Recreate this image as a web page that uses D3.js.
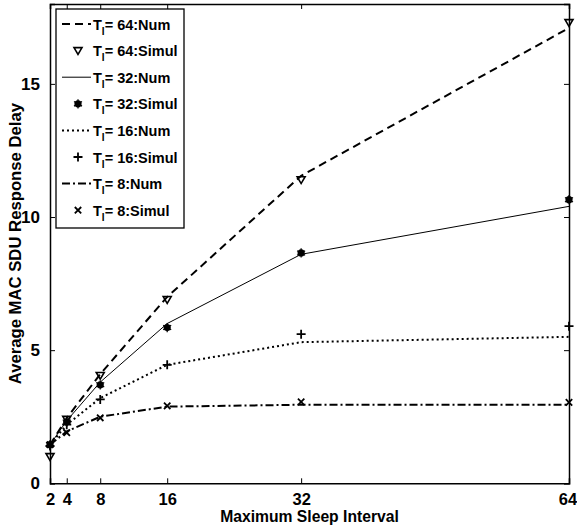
<!DOCTYPE html>
<html>
<head>
<meta charset="utf-8">
<script src="https://cdn.jsdelivr.net/npm/d3@7"></script>
<style>
  html, body { margin: 0; padding: 0; background: #fff; }
  svg { display: block; }
  text { font-family: "Liberation Sans", Arial, Helvetica, sans-serif; font-weight: bold; fill: #000; }
</style>
</head>
<body>
<script>
// Maximum sleep interval values on the x axis
const intervals = [2, 4, 8, 16, 32, 64];

// Average MAC SDU response delay: numerical model and simulation, per T_I
const num64 = [1.45, 2.45, 4.1, 7.0, 11.55, 17.1];
const sim64 = [1.0, 2.4, 4.05, 6.9, 11.4, 17.3];
const num32 = [1.45, 2.35, 3.8, 6.0, 8.6, 10.4];
const sim32 = [1.45, 2.3, 3.7, 5.85, 8.65, 10.65];
const num16 = [1.45, 2.2, 3.2, 4.45, 5.3, 5.5];
const sim16 = [1.4, 2.2, 3.15, 4.45, 5.6, 5.9];
const num8  = [1.45, 1.95, 2.5, 2.88, 2.95, 2.95];
const sim8  = [1.45, 1.9, 2.46, 2.91, 3.06, 3.04];

const xTicks = [2, 4, 8, 16, 32, 64];
const yTicks = [0, 5, 10, 15];
const legendLabels = ["64:Num", "64:Simul", "32:Num", "32:Simul", "16:Num", "16:Simul", "8:Num", "8:Simul"];

const W = 577, H = 529;
const mLeft = 50, mRight = 569, mTop = 4, mBottom = 483.3;

const x = d3.scaleLinear().domain([2, 64]).range([mLeft, mRight]);
const y = d3.scaleLinear().domain([0, 18]).range([mBottom, mTop]);

const svg = d3.select("body").append("svg").attr("width", W).attr("height", H);

// line styles for the numerical curves
const lineStyles = {
  dash:    { width: 2,   dash: "8,5" },
  solid:   { width: 1,   dash: null },
  dot:     { width: 2,   dash: "2,3" },
  dashdot: { width: 2,   dash: "8,3,2,3" }
};

const series = [
  { type: "line",   data: num64, style: "dash" },
  { type: "marker", data: sim64, marker: "tri" },
  { type: "line",   data: num32, style: "solid" },
  { type: "marker", data: sim32, marker: "star" },
  { type: "line",   data: num16, style: "dot" },
  { type: "marker", data: sim16, marker: "plus" },
  { type: "line",   data: num8,  style: "dashdot" },
  { type: "marker", data: sim8,  marker: "times" }
];

const line = d3.line().x((d, i) => x(intervals[i])).y(d => y(d));

function drawMarker(g, kind, cx, cy) {
  if (kind === "tri") {
    const s = 4;
    g.append("path")
      .attr("d", `M${cx - s},${cy - s * 0.75}L${cx + s},${cy - s * 0.75}L${cx},${cy + s * 0.95}Z`)
      .attr("fill", "none").attr("stroke", "#000").attr("stroke-width", 1.6);
  } else if (kind === "star") {
    g.append("circle").attr("cx", cx).attr("cy", cy).attr("r", 3.6).attr("fill", "#000");
    g.append("path")
      .attr("d", d3.symbol().type(d3.symbolAsterisk).size(60)())
      .attr("transform", `translate(${cx},${cy})`)
      .attr("fill", "none").attr("stroke", "#000").attr("stroke-width", 1.2);
  } else if (kind === "plus") {
    const s = 4.5;
    g.append("path")
      .attr("d", `M${cx - s},${cy}L${cx + s},${cy}M${cx},${cy - s}L${cx},${cy + s}`)
      .attr("stroke", "#000").attr("stroke-width", 1.8);
  } else if (kind === "times") {
    const s = 3.2;
    g.append("path")
      .attr("d", `M${cx - s},${cy - s}L${cx + s},${cy + s}M${cx - s},${cy + s}L${cx + s},${cy - s}`)
      .attr("stroke", "#000").attr("stroke-width", 1.8);
  }
}

// data
const plot = svg.append("g");
series.forEach(s => {
  if (s.type === "line") {
    const st = lineStyles[s.style];
    plot.append("path")
      .datum(s.data)
      .attr("d", line)
      .attr("fill", "none")
      .attr("stroke", "#000")
      .attr("stroke-width", st.width)
      .attr("stroke-dasharray", st.dash);
  } else {
    s.data.forEach((v, i) => drawMarker(plot, s.marker, x(intervals[i]), y(v)));
  }
});

// axes: bottom/left with labels, top/right as a box, all ticks pointing inward
const axG = svg.append("g");
axG.append("g").attr("transform", `translate(0,${mBottom})`)
  .call(d3.axisBottom(x).tickValues(xTicks).tickSize(-5).tickPadding(10).tickFormat(d3.format("d")))
  .call(g => g.selectAll("text").style("font-size", "16.5px").attr("dy", "0.71em"))
  .call(g => g.selectAll(".tick").filter(d => d === 64).select("text").attr("dx", -1.5));
axG.append("g").attr("transform", `translate(0,${mTop})`)
  .call(d3.axisTop(x).tickValues(xTicks).tickSize(-5).tickFormat(""));
axG.append("g").attr("transform", `translate(${mLeft},0)`)
  .call(d3.axisLeft(y).tickValues(yTicks).tickSize(-5).tickPadding(10).tickFormat(d3.format("d")))
  .call(g => g.selectAll("text").style("font-size", "17px"));
axG.append("g").attr("transform", `translate(${mRight},0)`)
  .call(d3.axisRight(y).tickValues(yTicks).tickSize(-5).tickFormat(""));
axG.selectAll(".domain").attr("stroke", "#000").attr("stroke-width", 1.5);
axG.selectAll(".tick line").attr("stroke", "#000").attr("stroke-width", 1);
axG.selectAll("g").attr("font-family", null).attr("font-size", null);

// axis titles
svg.append("text")
  .attr("x", (mLeft + mRight) / 2).attr("y", 521.5)
  .attr("text-anchor", "middle").style("font-size", "15.7px")
  .text("Maximum Sleep Interval");
svg.append("text")
  .attr("transform", `translate(21,${(mTop + mBottom) / 2}) rotate(-90)`)
  .attr("text-anchor", "middle").style("font-size", "16.7px")
  .text("Average MAC SDU Response Delay");

// legend
const lg = svg.append("g");
const boxX = 56, boxY = 9, boxW = 128, boxH = 219;
lg.append("rect").attr("x", boxX).attr("y", boxY).attr("width", boxW).attr("height", boxH)
  .attr("fill", "#fff").attr("stroke", "#000").attr("stroke-width", 1.3);
const rowY = i => 24 + i * 26.6;
series.forEach((s, i) => {
  const cy = rowY(i);
  if (s.type === "line") {
    const st = lineStyles[s.style];
    lg.append("line").attr("x1", 62).attr("x2", 91).attr("y1", cy).attr("y2", cy)
      .attr("stroke", "#000").attr("stroke-width", st.width).attr("stroke-dasharray", st.dash);
  } else {
    drawMarker(lg, s.marker, 78, cy);
  }
  const t = lg.append("text").attr("x", 93).attr("y", cy + 5.5).style("font-size", "14.5px");
  t.append("tspan").text("T");
  t.append("tspan").attr("dy", 5).style("font-size", "10px").text("I");
  t.append("tspan").attr("dy", -5).text("= " + legendLabels[i]);
});
</script>
</body>
</html>
